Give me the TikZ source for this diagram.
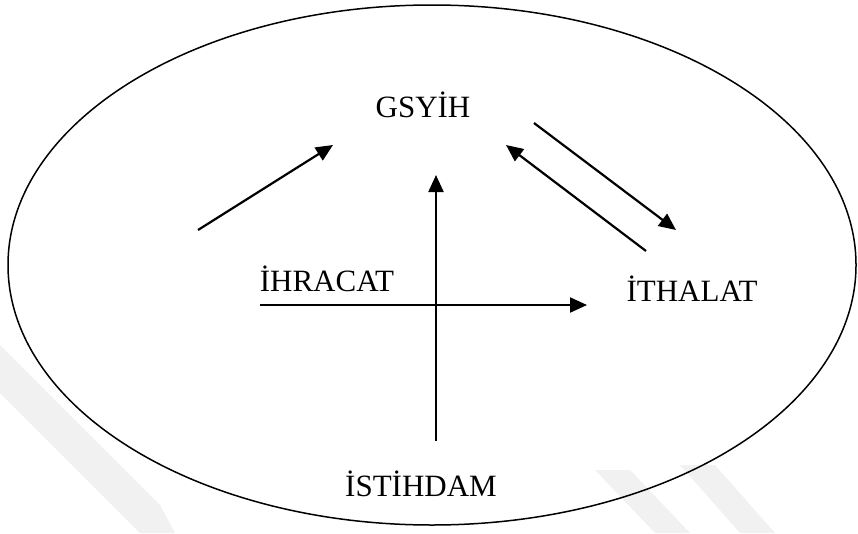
\documentclass[tikz,border=0pt]{standalone}
\usepackage{fontspec}
\setmainfont{Liberation Serif}
\usetikzlibrary{arrows.meta}
\definecolor{wm}{HTML}{F1F1F1}
\begin{document}
\begin{tikzpicture}[x=1pt,y=-1pt,
  lbl/.style={anchor=base,inner sep=0pt,font=\fontsize{31}{36}\selectfont},
  conn/.style={line width=2.2pt,-{Triangle[length=17pt,width=15pt]}}]
\useasboundingbox (0,0) rectangle (858,533);
% faint watermark bands
\fill[wm] (0,345) -- (160,505) -- (175,533) -- (140,533) -- (0,393) -- cycle;
\fill[wm] (595,470) -- (630,470) -- (690,533) -- (655,533) -- cycle;
\fill[wm] (680,465) -- (715,465) -- (775,533) -- (740,533) -- cycle;
% boundary ellipse
\draw[line width=1.5pt] (432,265) ellipse [x radius=424, y radius=260];
% labels
\node[lbl] (gsyih) at (423,117) {GSYİH};
\node[lbl] (ihr) at (327,291.5) {İHRACAT};
\node[lbl] (ith) at (692,301.5) {İTHALAT};
\node[lbl] (ist) at (421,496) {İSTİHDAM};
% connector end points
\coordinate (a1s) at (198,230);
\coordinate (a1e) at (333,145);
\coordinate (a2s) at (534,123);
\coordinate (a2e) at (676,230);
\coordinate (a3s) at (646,251);
\coordinate (a3e) at (506,145);
\coordinate (a4s) at (436,441);
\coordinate (a4e) at (436,175);
\coordinate (a5s) at (260,305);
\coordinate (a5e) at (587,305);
\draw[conn] (a1s) -- (a1e);
\draw[conn] (a2s) -- (a2e);
\draw[conn] (a3s) -- (a3e);
\draw[conn] (a4s) -- (a4e);
\draw[conn] (a5s) -- (a5e);
\end{tikzpicture}
\end{document}
